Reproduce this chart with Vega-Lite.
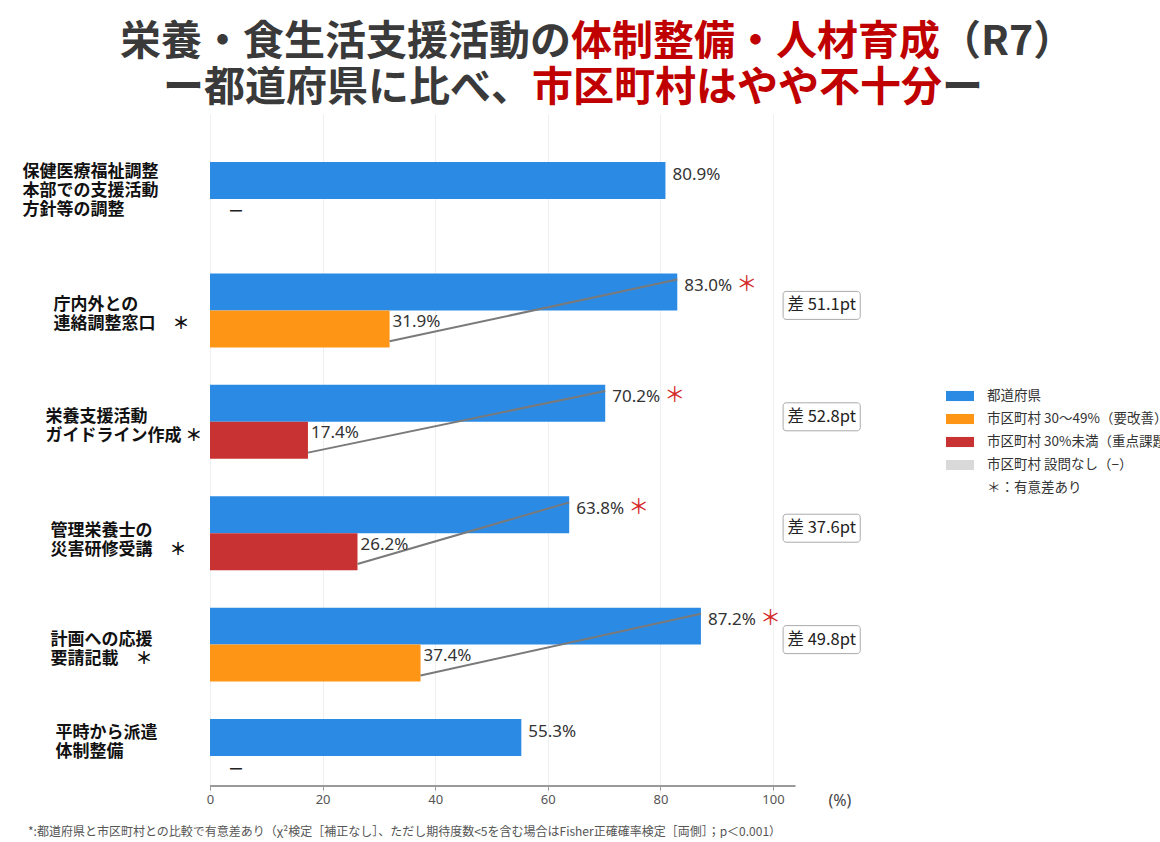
{
  "$schema": "https://vega.github.io/schema/vega-lite/v6.json",
  "padding": {"left": 22, "top": 22, "right": 0, "bottom": 0},
  "background": "white",
  "config": {"view": {"stroke": null}, "font": "Noto Sans CJK JP"},
  "title": {
    "text": "*:都道府県と市区町村との比較で有意差あり（χ²検定［補正なし］、ただし期待度数<5を含む場合はFisher正確確率検定［両側］；p＜0.001）",
    "orient": "bottom", "anchor": "start", "offset": 19, "dx": 6,
    "fontSize": 12, "fontWeight": "normal", "color": "#555555", "font": "Noto Sans CJK JP"
  },
  "datasets": {
    "rows": [
      {"item": "保健医療福祉調整\n本部での支援活動\n方針等の調整", "series": "都道府県", "value": 80.9, "cls": "都道府県", "sig": false},
      {"item": "保健医療福祉調整\n本部での支援活動\n方針等の調整", "series": "市区町村", "value": null, "cls": "市区町村 設問なし（−）", "sig": false},
      {"item": "庁内外との\n連絡調整窓口　＊", "series": "都道府県", "value": 83.0, "cls": "都道府県", "sig": true},
      {"item": "庁内外との\n連絡調整窓口　＊", "series": "市区町村", "value": 31.9, "cls": "市区町村 30〜49%（要改善）", "sig": false},
      {"item": "栄養支援活動\nガイドライン作成 ＊", "series": "都道府県", "value": 70.2, "cls": "都道府県", "sig": true},
      {"item": "栄養支援活動\nガイドライン作成 ＊", "series": "市区町村", "value": 17.4, "cls": "市区町村 30%未満（重点課題）", "sig": false},
      {"item": "管理栄養士の\n災害研修受講　＊", "series": "都道府県", "value": 63.8, "cls": "都道府県", "sig": true},
      {"item": "管理栄養士の\n災害研修受講　＊", "series": "市区町村", "value": 26.2, "cls": "市区町村 30%未満（重点課題）", "sig": false},
      {"item": "計画への応援\n要請記載　＊", "series": "都道府県", "value": 87.2, "cls": "都道府県", "sig": true},
      {"item": "計画への応援\n要請記載　＊", "series": "市区町村", "value": 37.4, "cls": "市区町村 30〜49%（要改善）", "sig": false},
      {"item": "平時から派遣\n体制整備", "series": "都道府県", "value": 55.3, "cls": "都道府県", "sig": false},
      {"item": "平時から派遣\n体制整備", "series": "市区町村", "value": null, "cls": "市区町村 設問なし（−）", "sig": false}
    ],
    "diffs": [
      {"item": "庁内外との\n連絡調整窓口　＊", "diff": 51.1},
      {"item": "栄養支援活動\nガイドライン作成 ＊", "diff": 52.8},
      {"item": "管理栄養士の\n災害研修受講　＊", "diff": 37.6},
      {"item": "計画への応援\n要請記載　＊", "diff": 49.8}
    ]
  },
  "spacing": {"row": -42, "column": 0},
  "columns": 1,
  "align": "none",
  "bounds": "full",
  "concat": [
    {
      "spacing": 0, "bounds": "full",
      "hconcat": [
        {"width": 1, "height": 1, "data": {"values": []}, "mark": "point",
         "title": {"text": "栄養・食生活支援活動の", "color": "#3a3a3a", "fontSize": 41, "fontWeight": "bold", "font": "Noto Sans CJK JP", "anchor": "start", "offset": 4, "baseline": "bottom"}},
        {"width": 1, "height": 1, "data": {"values": []}, "mark": "point",
         "title": {"text": "体制整備・人材育成", "color": "#c00000", "fontSize": 41, "fontWeight": "bold", "font": "Noto Sans CJK JP", "anchor": "start", "offset": 4, "baseline": "bottom"}},
        {"width": 1, "height": 1, "data": {"values": []}, "mark": "point",
         "title": {"text": "（R7）", "color": "#3a3a3a", "fontSize": 41, "fontWeight": "bold", "font": "Noto Sans CJK JP", "anchor": "start", "offset": 4, "baseline": "bottom"}}
      ]
    },
    {
      "spacing": 0, "bounds": "full",
      "hconcat": [
        {"width": 43, "height": 1, "data": {"values": []}, "mark": "point"},
        {"width": 1, "height": 1, "data": {"values": []}, "mark": "point",
         "title": {"text": "ー都道府県に比べ、", "color": "#3a3a3a", "fontSize": 41, "fontWeight": "bold", "font": "Noto Sans CJK JP", "anchor": "start", "offset": 4, "baseline": "bottom"}},
        {"width": 1, "height": 1, "data": {"values": []}, "mark": "point",
         "title": {"text": "市区町村はやや不十分", "color": "#c00000", "fontSize": 41, "fontWeight": "bold", "font": "Noto Sans CJK JP", "anchor": "start", "offset": 4, "baseline": "bottom"}},
        {"width": 1, "height": 1, "data": {"values": []}, "mark": "point",
         "title": {"text": "ー", "color": "#3a3a3a", "fontSize": 41, "fontWeight": "bold", "font": "Noto Sans CJK JP", "anchor": "start", "offset": 4, "baseline": "bottom"}}
      ]
    },
    {
      "width": 675.5,
      "height": 679,
      "data": {"name": "rows"},
      "resolve": {"scale": {"yOffset": "independent"}},
      "encoding": {
        "y": {
          "field": "item", "type": "nominal", "title": null,
          "scale": {
            "domain": ["保健医療福祉調整\n本部での支援活動\n方針等の調整", "庁内外との\n連絡調整窓口　＊", "栄養支援活動\nガイドライン作成 ＊", "管理栄養士の\n災害研修受講　＊", "計画への応援\n要請記載　＊", "平時から派遣\n体制整備"],
            "paddingInner": 0.336, "paddingOuter": 0.2155, "align": 1
          },
          "axis": {
            "ticks": false, "domain": false, "tickSize": 0, "grid": false,
            "labelAlign": "left", "labelBaseline": "middle",
            "labelFontSize": 17, "labelFontWeight": "bold", "labelColor": "#111111",
            "labelFont": "Noto Sans CJK JP", "labelLineHeight": 19, "labelLimit": 0,
            "labelExpr": "split(datum.label, '\\n')",
            "labelPadding": {
              "condition": [
                {"test": "indexof(datum.value, '保健') >= 0", "value": 98},
                {"test": "indexof(datum.value, '庁内') >= 0", "value": 67},
                {"test": "indexof(datum.value, '栄養支援') >= 0", "value": 75},
                {"test": "indexof(datum.value, '平時') >= 0", "value": 65}
              ],
              "value": 70
            },
            "labelOffset": {
              "condition": [
                {"test": "indexof(datum.value, '保健') >= 0", "value": -27},
                {"test": "indexof(datum.value, '平時') >= 0", "value": -23},
                {"test": "indexof(datum.value, '管理') >= 0", "value": -2}
              ],
              "value": -5
            }
          }
        }
      },
      "layer": [
        {
          "transform": [{"filter": "isValid(datum.value)"}],
          "mark": {"type": "bar"},
          "encoding": {
            "x": {
              "field": "value", "type": "quantitative", "title": "(%)",
              "scale": {"domain": [-15.986, 104], "nice": false, "zero": false},
              "axis": {
                "values": [0, 20, 40, 60, 80, 100], "offset": -7, "domain": false,
                "tickColor": "#9a9a9a", "tickSize": 4,
                "labelFontSize": 13, "labelColor": "#555555", "labelFont": "Noto Sans", "labelPadding": 3,
                "grid": true, "gridColor": "#efefef",
                "titleX": 708, "titleY": 14, "titleAlign": "left", "titleBaseline": "middle",
                "titleFontSize": 16, "titleFontWeight": "normal", "titleColor": "#444444", "titleFont": "Noto Sans"
              }
            },
            "yOffset": {"field": "series", "type": "nominal", "scale": {"type": "band", "domain": ["都道府県", "市区町村"], "paddingInner": 0, "paddingOuter": 0}},
            "color": {
              "field": "cls", "type": "nominal",
              "scale": {
                "domain": ["都道府県", "市区町村 30〜49%（要改善）", "市区町村 30%未満（重点課題）", "市区町村 設問なし（−）", "＊：有意差あり"],
                "range": ["#2b8ae4", "#ff9514", "#c83232", "#d9d9d9", "rgba(0,0,0,0)"]
              },
              "legend": {
                "orient": "none", "legendX": 826, "legendY": 273, "title": null,
                "symbolType": "M-1,-0.36H1V0.36H-1Z", "symbolSize": 784, "symbolStrokeWidth": 0,
                "labelFontSize": 13.5, "labelColor": "#333333", "labelFont": "Noto Sans CJK JP",
                "labelOffset": 13, "rowPadding": 2, "labelLimit": 400
              }
            }
          }
        },
        {
          "data": {"values": [{"axis": "x"}]},
          "mark": {"type": "rule", "color": "#9a9a9a", "strokeWidth": 2, "yOffset": 30},
          "encoding": {
            "x": {"datum": 0, "type": "quantitative"},
            "x2": {"datum": 104},
            "y": {"datum": "平時から派遣\n体制整備", "type": "nominal"}
          }
        },
        {
          "transform": [
            {"joinaggregate": [{"op": "valid", "field": "value", "as": "nvalid"}], "groupby": ["item"]},
            {"filter": "datum.nvalid == 2"}
          ],
          "mark": {"type": "line", "color": "#7a7a7a", "strokeWidth": 2},
          "encoding": {
            "x": {"field": "value", "type": "quantitative"},
            "detail": {"field": "item"},
            "yOffset": {"field": "series", "type": "nominal", "scale": {"type": "point", "domain": ["都道府県", "市区町村"], "padding": 0.1}}
          }
        },
        {
          "transform": [
            {"filter": "datum.series == '都道府県'"},
            {"calculate": "format(datum.value, '.1f') + '%'", "as": "lbl"}
          ],
          "mark": {"type": "text", "align": "left", "baseline": "middle", "dx": 7, "dy": -6, "fontSize": 17, "font": "Noto Sans", "color": "#333333"},
          "encoding": {
            "x": {"field": "value", "type": "quantitative"},
            "yOffset": {"field": "series", "type": "nominal", "scale": {"type": "band", "domain": ["都道府県", "市区町村"], "paddingInner": 0, "paddingOuter": 0}},
            "text": {"field": "lbl"}
          }
        },
        {
          "transform": [
            {"filter": "datum.series == '市区町村' && isValid(datum.value)"},
            {"calculate": "format(datum.value, '.1f') + '%'", "as": "lbl"}
          ],
          "mark": {"type": "text", "align": "left", "baseline": "middle", "dx": 3, "dy": -7, "fontSize": 17, "font": "Noto Sans", "color": "#333333"},
          "encoding": {
            "x": {"field": "value", "type": "quantitative"},
            "yOffset": {"field": "series", "type": "nominal", "scale": {"type": "band", "domain": ["都道府県", "市区町村"], "paddingInner": 0, "paddingOuter": 0}},
            "text": {"field": "lbl"}
          }
        },
        {
          "transform": [{"filter": "datum.cls == '市区町村 設問なし（−）'"}],
          "mark": {"type": "text", "text": "━", "align": "center", "baseline": "middle", "dx": 26, "dy": -5, "fontSize": 12, "font": "Noto Sans CJK JP", "color": "#222222"},
          "encoding": {
            "x": {"datum": 0, "type": "quantitative"},
            "yOffset": {"field": "series", "type": "nominal", "scale": {"type": "band", "domain": ["都道府県", "市区町村"], "paddingInner": 0, "paddingOuter": 0}}
          }
        },
        {
          "transform": [{"filter": "datum.sig"}],
          "mark": {"type": "text", "text": "＊", "align": "left", "baseline": "middle", "dx": 59, "dy": -7, "fontSize": 21, "font": "Noto Sans CJK JP", "color": "#d42a2a"},
          "encoding": {
            "x": {"field": "value", "type": "quantitative"},
            "yOffset": {"field": "series", "type": "nominal", "scale": {"type": "band", "domain": ["都道府県", "市区町村"], "paddingInner": 0, "paddingOuter": 0}}
          }
        },
        {
          "data": {"name": "diffs"},
          "mark": {"type": "bar", "height": 28, "yOffset": -5, "fill": "white", "stroke": "#aaaaaa", "strokeWidth": 1, "cornerRadius": 3},
          "encoding": {
            "x": {"datum": 101.8, "type": "quantitative"},
            "x2": {"datum": 115.5}
          }
        },
        {
          "data": {"name": "diffs"},
          "transform": [{"calculate": "'差 ' + format(datum.diff, '.1f') + 'pt'", "as": "t"}],
          "mark": {"type": "text", "align": "center", "baseline": "middle", "dy": -5, "fontSize": 16.5, "font": "Noto Sans CJK JP", "color": "#222222"},
          "encoding": {
            "x": {"datum": 108.65, "type": "quantitative"},
            "text": {"field": "t"}
          }
        }
      ]
    }
  ]
}
